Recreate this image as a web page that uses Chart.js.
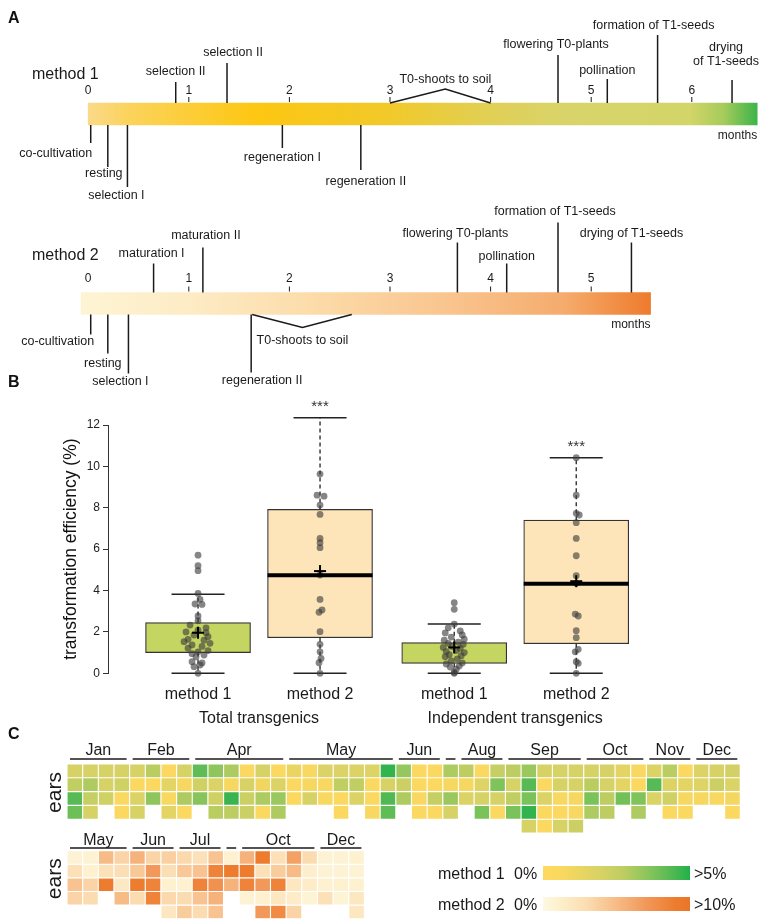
<!DOCTYPE html>
<html>
<head>
<meta charset="utf-8">
<title>Transformation timelines and efficiency</title>
<script src="https://cdn.jsdelivr.net/npm/chart.js@4.4.1/dist/chart.umd.min.js"></script>
<style>
  html, body { margin: 0; padding: 0; background: #fff; }
  body { position: relative; width: 767px; height: 921px; overflow: hidden; }
  canvas { position: absolute; left: 0; }
  .tag { position: absolute; left: 8px; font: bold 16px "Liberation Sans", Arial, sans-serif; color: #111; z-index: 5; }
</style>
</head>
<body>
<canvas id="timeline" width="767" height="400" style="top:0"></canvas>
<canvas id="boxes" width="767" height="360" style="top:380px"></canvas>
<canvas id="heat1" width="767" height="105" style="top:732px"></canvas>
<canvas id="heat2" width="767" height="101" style="top:820px"></canvas>
<div class="tag" style="top:9px">A</div>
<div class="tag" style="top:373px">B</div>
<div class="tag" style="top:725px">C</div>
<script>
const FONT = '"Liberation Sans", Arial, Helvetica, sans-serif';
Chart.defaults.font.family = FONT;
Chart.defaults.color = '#1a1a1a';

// ---------- A: timelines (months) ----------
const methods = ['method 1', 'method 2'];
const monthTicks1 = [0, 1, 2, 3, 4, 5, 6];
const monthTicks2 = [0, 1, 2, 3, 4, 5];
const barSpans = [[0, 6.65], [-0.07, 5.59]];

const m1Above = ['selection II', 'selection II', 'flowering T0-plants', 'pollination', 'formation of T1-seeds', 'drying\nof T1-seeds'];
const m1AboveAt = [0.87, 1.38, 4.67, 5.16, 5.66, 6.4];
const m1Below = ['co-cultivation', 'resting', 'selection I', 'regeneration I', 'regeneration II'];
const m1BelowAt = [0.025, 0.195, 0.39, 1.93, 2.71];
const m1Soil = [3, 3.55, 4];

const m2Above = ['maturation I', 'maturation II', 'flowering T0-plants', 'pollination', 'formation of T1-seeds', 'drying of T1-seeds'];
const m2AboveAt = [0.65, 1.14, 3.67, 4.16, 4.67, 5.4];
const m2Below = ['co-cultivation', 'resting', 'selection I', 'regeneration II'];
const m2BelowAt = [0.025, 0.195, 0.4, 1.62];
const m2Soil = [1.63, 2.13, 2.62];

// ---------- B: transformation efficiency (%) ----------
const boxPositions = [1, 2, 3.1, 4.1];
const boxLabels = ['method 1', 'method 2', 'method 1', 'method 2'];
const groupLabels = ['Total transgenics', 'Independent transgenics'];
const q1 = [1.0, 1.72, 0.48, 1.43];
const q3 = [2.45, 7.92, 1.48, 7.4];
const medians = [null, 4.74, null, 4.33];
const means = [1.96, 4.94, 1.25, 4.45];
const whiskerLow = [0, 0, 0, 0];
const whiskerHigh = [3.82, 12.35, 2.38, 10.42];
const stars = ['', '***', '', '***'];

const totalM1 = [5.71, 5.2, 4.96, 3.86, 3.57, 3.35, 3.33, 2.77, 2.54, 2.33, 2.2, 2.09, 2.0, 1.96, 1.85, 1.77, 1.64, 1.6, 1.53, 1.45, 1.37, 1.3, 1.21, 1.1, 1.04, 0.95, 0.88, 0.8, 0.56, 0.5, 0.4, 0.32, 0.0];
const totalM2 = [12.35, 9.63, 8.61, 8.56, 8.13, 7.68, 6.52, 6.31, 6.07, 4.75, 3.57, 3.06, 2.95, 2.01, 1.4, 1.04, 0.72, 0.51, 0.0];
const indepM1 = [3.41, 3.09, 2.38, 2.2, 2.05, 1.95, 1.85, 1.75, 1.65, 1.6, 1.5, 1.45, 1.4, 1.3, 1.25, 1.2, 1.1, 1.05, 1.0, 0.9, 0.85, 0.8, 0.7, 0.6, 0.5, 0.45, 0.35, 0.3, 0.2, 0.05, 0.0];
const indepM2 = [10.42, 8.61, 7.73, 7.65, 7.28, 6.52, 5.68, 4.72, 4.35, 2.86, 2.77, 2.06, 1.72, 1.16, 1.04, 0.56, 0.48, 0.0];

// ---------- C: efficiency per experiment (%) ----------
const m1Months = ['Jan', 'Feb', 'Apr', 'May', 'Jun', '', 'Aug', 'Sep', 'Oct', 'Nov', 'Dec'];
const m1MonthCols = [4, 4, 6, 7, 3, 1, 3, 5, 4, 3, 3];
const m1Row1 = [2.0, 2.0, 2.0, 2.0, 2.0, 2.8, 0.5, 2.0, 4.2, 3.5, 3.0, 0.5, 2.0, 0.5, 1.2, 0.7, 1.8, 1.8, 1.8, 1.7, 4.8, 3.4, 0.5, 0.5, 3.0, 2.7, 0.5, 2.5, 2.7, 3.3, 2.0, 2.0, 2.0, 2.0, 2.0, 1.5, 0.7, 1.8, 2.8, 0.5, 1.8, 2.0, 2.1];
const m1Row2 = [2.6, 3.0, 2.0, 2.2, 0.5, 0.5, 1.5, 0.8, 2.2, 1.8, 0.8, 2.0, 1.0, 1.8, 0.5, 0.8, 0.7, 2.6, 2.6, 0.6, 2.0, 2.3, 0.5, 0.5, 0.8, 0.8, 1.7, 3.7, 2.0, 4.3, 0.5, 2.0, 2.0, 2.8, 2.0, 1.5, 0.6, 4.3, 1.8, 1.5, 1.7, 2.3, 1.8];
const m1Row3 = [4.3, 2.5, 2.2, 0.5, 1.8, 3.5, 0.7, 3.0, 3.6, 2.2, 4.7, 2.3, 3.0, 3.3, 0.6, 2.0, 0.7, 0.6, 1.8, 0.5, 4.4, 3.0, 0.7, 2.5, 3.3, 1.8, 2.0, 2.0, 2.6, 3.8, 1.8, 0.7, 0.8, 3.8, 2.7, 3.9, 3.7, 1.8, 2.2, 0.8, 0.8, 0.7, 0.9];
const m1Row4 = [4.0, 2.0, null, 0.5, 2.0, null, 1.5, 0.5, null, 2.8, 2.7, 2.3, 0.5, 3.0, null, null, null, 0.6, null, 0.7, 4.2, null, 0.6, 0.6, 2.0, null, 3.8, 0.6, 3.8, 4.8, 0.6, 0.6, 0.7, 3.0, 2.7, null, 3.0, null, 0.6, 0.6, null, null, 0.6];
const m1Row5 = [null, null, null, null, null, null, null, null, null, null, null, null, null, null, null, null, null, null, null, null, null, null, null, null, null, null, null, null, null, 2.0, 0.6, 2.0, 2.3, null, null, null, null, null, null, null, null, null, null];

const m2Months = ['May', 'Jun', 'Jul', '', 'Oct', 'Dec'];
const m2MonthCols = [4, 3, 3, 1, 5, 3];
const m2Row1 = [0.8, 0.8, 5.0, 3.5, 5.5, 3.5, 3.7, 3.2, 2.5, 4.5, 1.0, 5.5, 9.0, 2.5, 6.5, 3.0, 0.8, 0.8, 1.0];
const m2Row2 = [2.5, 1.0, 2.5, 2.8, 4.2, 7.0, 2.8, 4.2, 4.5, 8.5, 9.0, 9.0, 2.5, 4.0, 5.0, 1.2, 0.8, 0.8, 0.8];
const m2Row3 = [4.5, 3.5, 9.0, 1.8, 9.0, 8.5, 1.0, 1.0, 8.5, 7.5, 5.5, 8.5, 7.0, 8.5, 2.0, 1.5, 1.0, 1.0, 1.0];
const m2Row4 = [3.5, 3.0, null, 5.0, 3.0, 8.5, 3.2, 3.0, 4.5, 5.5, null, 0.8, 1.0, 2.0, 1.5, 0.7, 2.5, 0.7, 2.0];
const m2Row5 = [null, null, null, null, null, null, 2.0, 4.0, 3.0, 4.5, null, null, 7.0, 8.0, 3.5, null, null, null, 2.0];

// ---------- layout & styles ----------
// [stem px, label x shift, label gap past stem end]
const m1AboveLayout = [[21, 0, 10], [40, 6, 10], [48, -2, 10], [24, 0, 8], [68, -4, 9], [23, -6, 18]];
const m1BelowLayout = [[18, -35, 11], [42, -4, 7], [62, -11, 9], [23, 0, 10], [45, 5, 12]];
const m2AboveLayout = [[29, -2, 10], [45, 3, 12], [50, -2, 9], [29, 0, 7], [70, -3, 11], [50, 0, 9]];
const m2BelowLayout = [[20, -33, 7], [39, -5, 10], [59, -8, 8], [58, 11, 8]];

const barStops = [
  [[0, '#fbd98a'], [0.06, '#fbd35c'], [0.25, '#fdc712'], [0.45, '#f1c92a'], [0.62, '#dfd05a'], [0.72, '#d8d46a'], [0.9, '#d2d567'], [0.95, '#a6cb5c'], [1, '#3db44a']],
  [[0, '#fef4d4'], [0.2, '#fdebc4'], [0.4, '#fcdcaa'], [0.65, '#f9c48e'], [0.85, '#f5ab6c'], [1, '#ee7b2c']]
];
const m1Ramp = [[0, '#fdd95f'], [0.12, '#fbd85f'], [0.4, '#d6d266'], [0.55, '#bccd61'], [0.7, '#8ec65d'], [0.85, '#5cbb55'], [1, '#22b04b']];
const m2Ramp = [[0, '#fef8e2'], [0.1, '#fdf1cf'], [0.3, '#fbdcb0'], [0.5, '#f7bb86'], [0.7, '#f2985a'], [0.9, '#ed7c2e'], [1, '#eb7429']];

function hexToRgb(h) { const n = parseInt(h.slice(1), 16); return [n >> 16 & 255, n >> 8 & 255, n & 255]; }
function rampColor(stops, t) {
  t = Math.max(0, Math.min(1, t));
  for (let i = 1; i < stops.length; i++) {
    if (t <= stops[i][0]) {
      const [t0, c0] = stops[i - 1], [t1, c1] = stops[i];
      const f = (t - t0) / (t1 - t0);
      const a = hexToRgb(c0), b = hexToRgb(c1);
      return 'rgb(' + a.map((v, k) => Math.round(v + (b[k] - v) * f)).join(',') + ')';
    }
  }
  return stops[stops.length - 1][1];
}
function line(ctx, x0, y0, x1, y1) { ctx.beginPath(); ctx.moveTo(x0, y0); ctx.lineTo(x1, y1); ctx.stroke(); }

// ---------- A ----------
const timelineRows = [
  { ticks: monthTicks1, above: m1Above, aboveAt: m1AboveAt, aboveLayout: m1AboveLayout, below: m1Below, belowAt: m1BelowAt, belowLayout: m1BelowLayout,
    soil: m1Soil, soilDir: -1, soilDepth: 14, soilGap: 9, nameDy: -28, tickDy: -12, monthsDy: 11 },
  { ticks: monthTicks2, above: m2Above, aboveAt: m2AboveAt, aboveLayout: m2AboveLayout, below: m2Below, belowAt: m2BelowAt, belowLayout: m2BelowLayout,
    soil: m2Soil, soilDir: 1, soilDepth: 13, soilGap: 13, nameDy: -37, tickDy: -13.5, monthsDy: 10 }
];

function drawEvents(ctx, x, names, at, layout, edge, dir) {
  names.forEach((name, k) => {
    const [stem, dx, dy] = layout[k];
    const px = x.getPixelForValue(at[k]);
    const end = edge + dir * stem;
    line(ctx, px, edge, px, end);
    const lines = name.split('\n');
    lines.forEach((ln, j) => {
      const off = dir < 0 ? (lines.length - 1 - j) : j;
      ctx.fillText(ln, px + dx, end + dir * (dy + off * 14));
    });
  });
}

const timelinePlugin = {
  id: 'timelineMarks',
  afterDatasetsDraw(chart) {
    const { ctx, scales: { x } } = chart;
    const bars = chart.getDatasetMeta(0).data;
    ctx.save();
    ctx.strokeStyle = '#1a1a1a';
    ctx.fillStyle = '#1a1a1a';
    ctx.lineWidth = 1.5;
    ctx.textBaseline = 'middle';
    timelineRows.forEach((row, i) => {
      const top = bars[i].y - bars[i].height / 2;
      const bottom = bars[i].y + bars[i].height / 2;
      // method name
      ctx.font = '16px ' + FONT;
      ctx.textAlign = 'left';
      ctx.fillText(methods[i], 32, top + row.nameDy);
      // month ticks
      ctx.font = '12px ' + FONT;
      ctx.textAlign = 'center';
      row.ticks.forEach(m => {
        const px = x.getPixelForValue(m);
        ctx.fillText(String(m), px, top + row.tickDy);
        if (m > 0) { ctx.lineWidth = 1; line(ctx, px, top - 6, px, top - 1); ctx.lineWidth = 1.5; }
      });
      ctx.textAlign = 'right';
      ctx.fillText('months', x.getPixelForValue(barSpans[i][1]), bottom + row.monthsDy);
      // events
      ctx.font = '12.5px ' + FONT;
      ctx.textAlign = 'center';
      drawEvents(ctx, x, row.above, row.aboveAt, row.aboveLayout, top, -1);
      drawEvents(ctx, x, row.below, row.belowAt, row.belowLayout, bottom, 1);
      // shoots to soil bracket
      const edge = row.soilDir < 0 ? top : bottom;
      const [a, p, b] = row.soil.map(v => x.getPixelForValue(v));
      const tipY = edge + row.soilDir * row.soilDepth;
      ctx.beginPath(); ctx.moveTo(a, edge); ctx.lineTo(p, tipY); ctx.lineTo(b, edge); ctx.stroke();
      ctx.fillText('T0-shoots to soil', p, tipY + row.soilDir * row.soilGap);
    });
    ctx.restore();
  }
};

new Chart(document.getElementById('timeline'), {
  type: 'bar',
  data: {
    labels: methods,
    datasets: [{
      data: barSpans,
      barThickness: 22,
      borderWidth: 0,
      borderSkipped: false,
      backgroundColor(c) {
        const chart = c.chart;
        if (!chart.chartArea) return '#fdc712';
        const x = chart.scales.x;
        const [a, b] = barSpans[c.dataIndex];
        const g = chart.ctx.createLinearGradient(x.getPixelForValue(a), 0, x.getPixelForValue(b), 0);
        barStops[c.dataIndex].forEach(([t, col]) => g.addColorStop(t, col));
        return g;
      }
    }]
  },
  options: {
    indexAxis: 'y',
    responsive: false,
    animation: false,
    events: [],
    layout: { padding: { top: 19.25, bottom: 1.75, left: 0, right: 0 } },
    plugins: { legend: { display: false }, tooltip: { enabled: false } },
    scales: {
      x: { type: 'linear', min: -0.8767, max: 6.7475, display: false },
      y: { display: false }
    }
  },
  plugins: [timelinePlugin]
});

// ---------- B ----------
const pointSets = [totalM1, totalM2, indepM1, indepM2];
const jitterPx = [
  [0, 0, 0, 0, 2, -3, 4, 0, 0, -8, 8, 0, -12, 8, -4, 10, -10, 6, -14, 12, -6, 4, -10, 10, 0, -6, 6, -2, -6, 4, 2, -4, 0],
  [0, 0, -3, 4, 0, 0, 0, 0, 0, 0, 0, 2, -1, 0, 0, 0, 1, -1, 0],
  [0, 0, 0, -6, 6, -9, 8, -3, 10, -10, 4, -6, 9, -2, -11, 6, 2, -8, 10, -5, 7, -9, 3, -3, 8, -8, 5, -4, 2, 0, 0],
  [0, 0, 0, 3, 0, 0, 0, 0, 0, -1, 2, 0, 0, 2, -1, 0, 2, 0]
];
const boxFill = ['#c5d561', '#fde4b9', '#c5d561', '#fde4b9'];
const pxPerUnit = 122;

const boxPlugin = {
  id: 'boxParts',
  beforeDatasetsDraw(chart) {
    const { ctx, scales: { x, y } } = chart;
    ctx.save();
    ctx.strokeStyle = '#222';
    boxPositions.forEach((p, i) => {
      const cx = x.getPixelForValue(p);
      const hi = y.getPixelForValue(whiskerHigh[i]);
      const lo = y.getPixelForValue(whiskerLow[i]);
      ctx.lineWidth = 1.3;
      ctx.setLineDash([4, 3]);
      line(ctx, cx, y.getPixelForValue(q3[i]), cx, hi);
      line(ctx, cx, y.getPixelForValue(q1[i]), cx, lo);
      ctx.setLineDash([]);
      ctx.lineWidth = 1.5;
      line(ctx, cx - 26.5, hi, cx + 26.5, hi);
      line(ctx, cx - 26.5, lo, cx + 26.5, lo);
    });
    ctx.restore();
  },
  afterDatasetsDraw(chart) {
    const { ctx, chartArea, scales: { x, y } } = chart;
    ctx.save();
    ctx.strokeStyle = '#000';
    ctx.fillStyle = '#1a1a1a';
    boxPositions.forEach((p, i) => {
      const cx = x.getPixelForValue(p);
      if (medians[i] != null) {
        ctx.lineWidth = 4;
        const my = y.getPixelForValue(medians[i]);
        line(ctx, cx - 52.5, my, cx + 52.5, my);
      }
      ctx.lineWidth = 2;
      const mn = y.getPixelForValue(means[i]);
      line(ctx, cx - 6, mn, cx + 6, mn);
      line(ctx, cx, mn - 6, cx, mn + 6);
      ctx.textAlign = 'center';
      ctx.textBaseline = 'middle';
      if (stars[i]) {
        ctx.font = '15px ' + FONT;
        ctx.fillStyle = '#333';
        ctx.fillText(stars[i], cx, y.getPixelForValue(whiskerHigh[i]) - 11);
        ctx.fillStyle = '#1a1a1a';
      }
      ctx.font = '16px ' + FONT;
      ctx.fillText(boxLabels[i], cx, chartArea.bottom + 21);
    });
    groupLabels.forEach((g, k) => {
      const cx = (x.getPixelForValue(boxPositions[2 * k]) + x.getPixelForValue(boxPositions[2 * k + 1])) / 2;
      ctx.fillText(g, cx, chartArea.bottom + 45);
    });
    ctx.restore();
  }
};

new Chart(document.getElementById('boxes'), {
  type: 'bar',
  data: {
    datasets: [
      {
        type: 'bar',
        data: boxPositions.map((p, i) => ({ x: p, y: [q1[i], q3[i]] })),
        backgroundColor: boxFill,
        borderColor: '#333',
        borderWidth: 1.2,
        borderSkipped: false,
        barThickness: 105,
        order: 2
      },
      {
        type: 'scatter',
        data: pointSets.flatMap((vals, i) => vals.map((v, k) => ({ x: boxPositions[i] + jitterPx[i][k] / pxPerUnit, y: v }))),
        pointRadius: 3.4,
        pointBackgroundColor: 'rgba(60,60,60,0.62)',
        pointBorderWidth: 0,
        clip: false,
        order: 1
      }
    ]
  },
  options: {
    responsive: false,
    animation: false,
    events: [],
    layout: { padding: { left: 57, top: 45, bottom: 66.7, right: 105 } },
    plugins: { legend: { display: false }, tooltip: { enabled: false } },
    scales: {
      x: { type: 'linear', min: 0.262, max: 4.803, offset: false, display: false },
      y: {
        min: 0, max: 12,
        afterFit(s) { s.width = 51; },
        border: { display: true, color: '#333', width: 1 },
        grid: { drawOnChartArea: false, drawTicks: true, tickLength: 5, color: '#333' },
        ticks: { stepSize: 2, color: '#222', font: { size: 12 }, padding: 3 },
        title: { display: true, text: 'transformation efficiency (%)', color: '#111', font: { size: 17.5 }, padding: { top: 4, bottom: 0 } }
      }
    }
  },
  plugins: [boxPlugin]
});

// ---------- C ----------
const heatPlugin = {
  id: 'heatLabels',
  afterDraw(chart, args, opts) {
    const { ctx, chartArea, scales: { x } } = chart;
    const half = (x.getPixelForValue(1) - x.getPixelForValue(0)) / 2;
    ctx.save();
    ctx.fillStyle = '#1a1a1a';
    ctx.strokeStyle = '#1a1a1a';
    ctx.lineWidth = 1.5;
    ctx.font = '16px ' + FONT;
    ctx.textAlign = 'center';
    ctx.textBaseline = 'alphabetic';
    let start = 0;
    opts.months.forEach((m, i) => {
      const end = start + opts.cols[i] - 1;
      const x0 = x.getPixelForValue(start) - half + 3;
      const x1 = x.getPixelForValue(end) + half - 3;
      line(ctx, x0, chartArea.top - opts.lineGap, x1, chartArea.top - opts.lineGap);
      if (m) ctx.fillText(m, (x0 + x1) / 2, chartArea.top - opts.textGap);
      start = end + 1;
    });
    ctx.save();
    ctx.font = '21px ' + FONT;
    ctx.translate(61, (chartArea.top + chartArea.bottom) / 2 - 6);
    ctx.rotate(-Math.PI / 2);
    ctx.fillText('ears', 0, 0);
    ctx.restore();
    if (opts.legend) {
      const items = [
        { name: methods[0], hi: '>5%', stops: m1Ramp, y: 46 },
        { name: methods[1], hi: '>10%', stops: m2Ramp, y: 77 }
      ];
      ctx.textAlign = 'left';
      items.forEach(it => {
        ctx.fillText(it.name, 438, it.y + 13);
        ctx.fillText('0%', 514, it.y + 13);
        ctx.fillText(it.hi, 694, it.y + 13);
        const g = ctx.createLinearGradient(543, 0, 690, 0);
        it.stops.forEach(([t, c]) => g.addColorStop(t, c));
        ctx.fillStyle = g;
        ctx.fillRect(543, it.y, 147, 14);
        ctx.fillStyle = '#1a1a1a';
      });
    }
    ctx.restore();
  }
};

function heatChart(id, rows, ramp, maxVal, padding, labelOpts) {
  const n = rows.length;
  return new Chart(document.getElementById(id), {
    type: 'bar',
    data: {
      labels: rows[0].map((_, i) => String(i + 1)),
      datasets: rows.map((row, r) => ({
        data: row.map(v => (v == null ? null : [n - 1 - r, n - r])),
        backgroundColor: row.map(v => (v == null ? 'rgba(0,0,0,0)' : rampColor(ramp, v / maxVal))),
        borderColor: '#ffffff',
        borderWidth: 0.9,
        borderSkipped: false,
        grouped: false,
        barPercentage: 1,
        categoryPercentage: 1
      }))
    },
    options: {
      responsive: false,
      animation: false,
      events: [],
      layout: { padding },
      plugins: { legend: { display: false }, tooltip: { enabled: false }, heatLabels: labelOpts },
      scales: {
        x: { display: false },
        y: { display: false, min: 0, max: n }
      }
    },
    plugins: [heatPlugin]
  });
}

heatChart('heat1', [m1Row1, m1Row2, m1Row3, m1Row4, m1Row5], m1Ramp, 5,
  { left: 67, right: 26.7, top: 32, bottom: 4 },
  { months: m1Months, cols: m1MonthCols, lineGap: 5, textGap: 9, legend: false });
heatChart('heat2', [m2Row1, m2Row2, m2Row3, m2Row4, m2Row5], m2Ramp, 10,
  { left: 67, right: 402.6, top: 30.7, bottom: 2.3 },
  { months: m2Months, cols: m2MonthCols, lineGap: 2.7, textGap: 5.7, legend: true });
</script>
</body>
</html>
